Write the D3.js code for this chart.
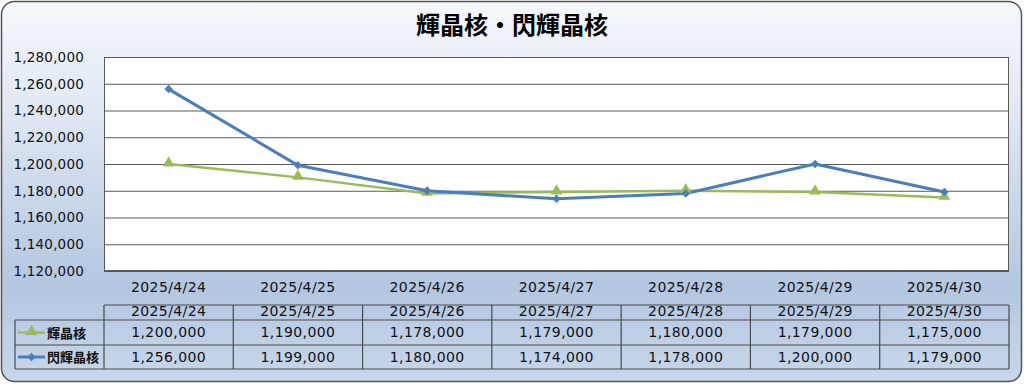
<!DOCTYPE html>
<html><head><meta charset="utf-8">
<script src="https://cdn.jsdelivr.net/npm/d3@7"></script>
<style>html,body{margin:0;padding:0;background:#fff;}svg{display:block;}</style>
</head><body>
<svg id="c" width="1024" height="384"></svg>
<script>
const title = "輝晶核・閃輝晶核";
const categories = ["2025/4/24","2025/4/25","2025/4/26","2025/4/27","2025/4/28","2025/4/29","2025/4/30"];
const seriesNames = ["輝晶核","閃輝晶核"];
const seriesA = [1200000,1190000,1178000,1179000,1180000,1179000,1175000];
const seriesB = [1256000,1199000,1180000,1174000,1178000,1200000,1179000];
const yTicks = [1120000,1140000,1160000,1180000,1200000,1220000,1240000,1260000,1280000];
const colors = ["#9bbb59","#4a7ebb"];

const svg = d3.select("#c");
const font = "'DejaVu Sans','Noto Sans CJK JP',sans-serif";
const cjk = "'Noto Sans CJK JP',sans-serif";
const fs = 14, ls = 0.4;
const defs = svg.append("defs");
const g = defs.append("linearGradient").attr("id","bg").attr("x1",0).attr("y1",0).attr("x2",0).attr("y2",1);
g.append("stop").attr("offset","0%").attr("stop-color","#f5f8fc");
g.append("stop").attr("offset","25%").attr("stop-color","#e3eaf4");
g.append("stop").attr("offset","75%").attr("stop-color","#b3c7e1");
g.append("stop").attr("offset","100%").attr("stop-color","#c8d7ea");
svg.append("rect").attr("x",1.5).attr("y",1.5).attr("width",1020).attr("height",380).attr("rx",13)
  .attr("fill","url(#bg)").attr("stroke","#555").attr("stroke-width",1.5);

svg.append("text").attr("x",512).attr("y",34).attr("text-anchor","middle")
  .attr("font-family",cjk).attr("font-weight",700).attr("font-size",24).attr("fill","#000").text(title);

const L=104, R=1009, T=57, B=271;
const x = d3.scaleBand().domain(categories).range([L,R]);
const y = d3.scaleLinear().domain([1120000,1280000]).range([B,T]);

svg.append("rect").attr("x",L).attr("y",T).attr("width",R-L).attr("height",B-T).attr("fill","#fff");
const gridG = svg.append("g").attr("transform",`translate(${L},0)`)
  .call(d3.axisLeft(y).tickValues(yTicks).tickSize(-(R-L)).tickFormat(""));
gridG.select(".domain").remove();
gridG.selectAll("line").attr("stroke","#5a5a5a").attr("stroke-width",1);
svg.append("rect").attr("x",L+0.5).attr("y",T+0.5).attr("width",R-L-1).attr("height",B-T-1).attr("fill","none").attr("stroke","#5a5a5a");

const yAx = svg.append("g").attr("transform",`translate(${L-17},0)`)
  .call(d3.axisLeft(y).tickValues(yTicks).tickSize(0).tickFormat(d3.format(",")));
yAx.select(".domain").remove();
yAx.selectAll("text").attr("font-family",font).attr("font-size",13.5).attr("letter-spacing",0.2).attr("fill","#111").attr("dx",0);

const xAx = svg.append("g").attr("transform",`translate(0,${B+8})`)
  .call(d3.axisBottom(x).tickSize(0));
xAx.select(".domain").remove();
xAx.selectAll("text").attr("font-family",font).attr("font-size",fs).attr("letter-spacing",ls).attr("fill","#111");

const cx = d => x(d)+x.bandwidth()/2;
const line = d3.line().x((d,i)=>cx(categories[i])).y(d=>y(d));
[seriesA,seriesB].forEach((s,k)=>{
  svg.append("path").datum(s).attr("d",line).attr("fill","none").attr("stroke",colors[k])
    .attr("stroke-width",k===1?3:2.5).attr("stroke-linejoin","round");
});
const tri = d3.symbol().type(d3.symbolTriangle).size(60);
const dia = d3.symbol().type(d3.symbolSquare).size(36);
svg.append("g").selectAll("path").data(seriesA).join("path")
  .attr("d",tri).attr("transform",(d,i)=>`translate(${cx(categories[i])},${y(d)-1})`).attr("fill",colors[0]);
svg.append("g").selectAll("path").data(seriesB).join("path")
  .attr("d",dia).attr("transform",(d,i)=>`translate(${cx(categories[i])},${y(d)}) rotate(45)`).attr("fill",colors[1]);

// data table
const tT=305, r1=320, r2=345, tB=369, LL=15;
const tg = svg.append("g").attr("stroke","#4a4a4a").attr("stroke-width",1.2).attr("fill","none");
tg.append("line").attr("x1",L).attr("x2",R).attr("y1",tT).attr("y2",tT);
[r1,r2,tB].forEach(v=>tg.append("line").attr("x1",LL).attr("x2",R).attr("y1",v).attr("y2",v));
tg.append("line").attr("x1",LL).attr("x2",LL).attr("y1",r1).attr("y2",tB);
categories.forEach(c=>tg.append("line").attr("x1",x(c)).attr("x2",x(c)).attr("y1",tT).attr("y2",tB));
tg.append("line").attr("x1",R).attr("x2",R).attr("y1",tT).attr("y2",tB);

const tx = svg.append("g").attr("font-family",font).attr("font-size",fs).attr("letter-spacing",ls).attr("fill","#111").attr("text-anchor","middle");
categories.forEach((c,i)=>{
  tx.append("text").attr("x",cx(c)).attr("y",316).text(c);
  tx.append("text").attr("x",cx(c)).attr("y",337).text(d3.format(",")(seriesA[i]));
  tx.append("text").attr("x",cx(c)).attr("y",362).text(d3.format(",")(seriesB[i]));
});
[[r1,r2],[r2,tB]].forEach((rr,k)=>{
  const my=(rr[0]+rr[1])/2;
  svg.append("line").attr("x1",18).attr("x2",45).attr("y1",my).attr("y2",my).attr("stroke",colors[k]).attr("stroke-width",k===1?3:2.5);
  svg.append("path").attr("d",k===0?tri:dia).attr("transform",`translate(31.5,${k===0?my-1:my}) ${k===1?"rotate(45)":""}`).attr("fill",colors[k]);
  svg.append("text").attr("x",47).attr("y",my+5).attr("font-family",cjk).attr("font-size",13).attr("font-weight",700).attr("fill","#111").text(seriesNames[k]);
});
</script>
</body></html>
